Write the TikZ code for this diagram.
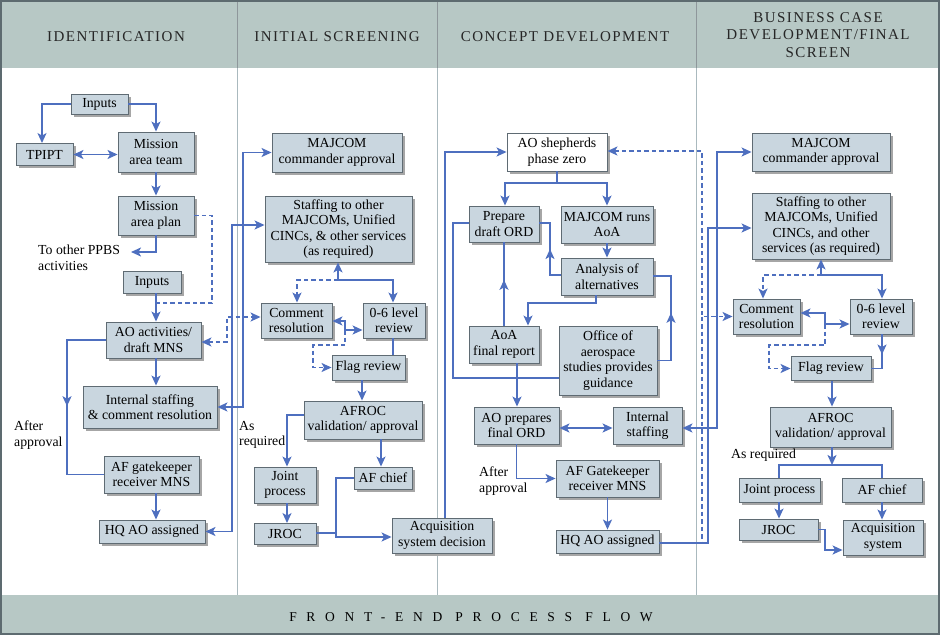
\documentclass[tikz,border=0pt]{standalone}
\usepackage{fontspec}
\setmainfont{Liberation Serif}
\newfontfamily\hdrfont[LetterSpace=10]{Liberation Serif}
\newfontfamily\btmfont[LetterSpace=72]{Liberation Serif}
\usetikzlibrary{arrows.meta,shadows,decorations.markings,calc}
\definecolor{boxfill}{HTML}{C9D6DF}
\definecolor{boxdraw}{HTML}{5F6B73}
\definecolor{linec}{HTML}{4E6FBF}
\definecolor{band}{HTML}{B7C8C5}
\definecolor{divc}{HTML}{AAB9BE}
\definecolor{framec}{HTML}{5D6B70}
\newcommand\bxfont{\fontsize{13.8}{15.5}\selectfont}
\tikzset{
  box/.style={draw=boxdraw, line width=0.9pt, fill=boxfill, align=center, inner sep=1pt, font=\bxfont,
    drop shadow={shadow xshift=2.5pt, shadow yshift=-2.5pt, fill=black!35, opacity=1}},
  lbl/.style={align=left, font=\bxfont, inner sep=1pt},
  hdr/.style={align=center, font=\hdrfont\fontsize{15}{17.5}\selectfont, text=black!85},
  line/.style={draw=linec, line width=1.6pt},
  dsh/.style={dash pattern=on 4.5pt off 3pt},
  conn/.style={line, -{Stealth[length=10pt,width=9pt,inset=2.5pt]}},
  dbl/.style={line, {Stealth[length=10pt,width=9pt,inset=2.5pt]}-{Stealth[length=10pt,width=9pt,inset=2.5pt]}},
  midarr/.style={line, postaction={decorate}, decoration={markings, mark=at position #1 with {\arrow{Stealth[length=10pt,width=9pt,inset=2.5pt]}}}},
  divider/.style={draw=divc, line width=1pt}
}
\begin{document}
\begin{tikzpicture}[x=1pt,y=-1pt]
\useasboundingbox (0,0) rectangle (940,635);
% bands
\fill[band] (0,0) rectangle (940,68);
\fill[band] (0,595) rectangle (940,635);
\foreach \xx in {237,437,696} {
  \draw[divider] (\xx,68) -- (\xx,595);
  \draw[draw=framec!70, line width=1pt] (\xx,0) -- (\xx,68);
}
\draw[draw=framec, line width=2pt] (1,1) rectangle (939,634);
% headers
\node[hdr] (h1) at (116,37) {IDENTIFICATION};
\node[hdr] (h2) at (337,37) {INITIAL SCREENING};
\node[hdr] (h3) at (565,37) {CONCEPT DEVELOPMENT};
\node[hdr] (h4) at (818,35) {BUSINESS CASE\\DEVELOPMENT/FINAL\\SCREEN};
\node (ft) at (471,617) {\btmfont\fontsize{13.5}{15}\selectfont FRONT-END PROCESS FLOW};

% ---------- column 1
\node[box,minimum width=57pt,minimum height=20pt] (in1) at (99.5,104) {Inputs};
\node[box,minimum width=57pt,minimum height=22pt] (tpipt) at (44.5,154.5) {TPIPT};
\node[box,minimum width=76pt,minimum height=40pt] (mat) at (156,152) {Mission\\area team};
\node[box,minimum width=76pt,minimum height=39pt] (map) at (156,215.5) {Mission\\area plan};
\node[box,minimum width=58pt,minimum height=22pt] (in2) at (152,282) {Inputs};
\node[box,minimum width=95pt,minimum height=36pt] (aoa) at (153.5,340) {AO activities/\\draft MNS};
\node[box,minimum width=134pt,minimum height=42pt] (ist) at (150,407) {Internal staffing\\\& comment resolution};
\node[box,minimum width=95pt,minimum height=37pt] (afg) at (151.5,474.5) {AF gatekeeper\\receiver MNS};
\node[box,minimum width=106pt,minimum height=23pt] (hqa) at (152,531.5) {HQ AO assigned};

\node[lbl,anchor=north west] (lppbs) at (37,244) {To other PPBS\\activities};
\node[lbl,anchor=north west] (lapp1) at (13,420) {After\\approval};

\draw[conn] (in1.west) -- (42,0|-in1.west) -- (42,0|-tpipt.north);
\draw[conn] (in1.east) -- (156,0|-in1.east) -- (156,0|-mat.north);
\draw[dbl] (tpipt.east) -- (tpipt.east-|mat.west);
\draw[conn] (mat.south) -- (map.north);
\coordinate (ppbs) at (131,252);
\draw[conn] (map.south) -- (156,252) -- (ppbs);
\draw[conn] (156,0|-in2.south) -- (156,0|-aoa.north);
\draw[conn] (156,0|-aoa.south) -- (156,0|-ist.north);
\draw[midarr=0.5] (aoa.west) -- (67,0|-aoa.west) -- (67,0|-afg.west) -- (afg.west);
\draw[conn] (156,0|-afg.south) -- (156,0|-hqa.north);
\coordinate (mapj) at (157,303);
\draw[line,dsh] (map.east) -- (212,0|-map.east) -- (212,303) -- (mapj);

% ---------- column 2
\node[box,minimum width=130pt,minimum height=39pt] (mcc) at (337,152.5) {MAJCOM\\commander approval};
\node[box,minimum width=147pt,minimum height=66pt] (stf) at (338.5,229) {Staffing to other\\MAJCOMs, Unified\\CINCs, \& other services\\(as required)};
\node[box,minimum width=71pt,minimum height=35pt] (cr) at (296.5,320.5) {Comment\\resolution};
\node[box,minimum width=62pt,minimum height=35pt] (o6) at (394,320.5) {0-6 level\\review};
\node[box,minimum width=73pt,minimum height=25pt] (flg) at (368.5,367.5) {Flag review};
\node[box,minimum width=118pt,minimum height=38pt] (afroc) at (363,420) {AFROC\\validation/ approval};
\node[box,minimum width=62pt,minimum height=36pt] (jp) at (285,485) {Joint\\process};
\node[box,minimum width=58pt,minimum height=22pt] (afc) at (383,478) {AF chief};
\node[box,minimum width=62pt,minimum height=21pt] (jroc) at (285,534) {JROC};
\node[box,minimum width=100pt,minimum height=35pt] (acq) at (442,535.5) {Acquisition\\system decision};

\node[lbl,anchor=north west] (lreq2) at (238,420) {As\\required};

\coordinate (s2) at (338,280);
\draw[conn] (s2) -- (338,0|-stf.south);
\draw[conn] (s2) -- (393,280) -- (393,0|-o6.north);
\draw[conn,dsh] (s2) -- (297,280) -- (297,0|-cr.north);
\coordinate (j2) at (345,330);
\draw[conn] (j2) -- (345,321) -- (cr.east|-0,321);
\draw[conn] (j2) -- (o6.west|-j2);
\draw[conn,dsh] (j2) -- (345,345) -- (313,345) -- (313,0|-flg.west) -- (flg.west);
\draw[line] (393,0|-o6.south) -- (393,0|-flg.north);
\draw[conn] (362,0|-flg.south) -- (362,0|-afroc.north);
\draw[conn] (afroc.west|-0,415) -- (287,415) -- (287,0|-jp.north);
\draw[conn] (381,0|-afroc.south) -- (381,0|-afc.north);
\draw[conn] (287,0|-jp.south) -- (287,0|-jroc.north);
\draw[line] (jroc.east|-0,533) -- (336,533);
\draw[conn] (afc.west) -- (336,0|-afc.west) -- (336,537) -- (acq.west|-0,537);

% column 1 <-> column 2
\draw[dbl] (ist.east) -- (243,0|-ist.east) -- (243,0|-mcc.west) -- (mcc.west);
\draw[dbl] (hqa.east) -- (232,0|-hqa.east) -- (232,225) -- (stf.west|-0,225);
\draw[dbl,dsh] (aoa.east|-0,342) -- (227,342) -- (227,317) -- (cr.west|-0,317);

% ---------- column 3
\node[box,fill=white,minimum width=100pt,minimum height=38pt] (aos) at (557,152) {AO shepherds\\phase zero};
\node[box,minimum width=70pt,minimum height=36pt] (pdo) at (504,224) {Prepare\\draft ORD};
\node[box,minimum width=92pt,minimum height=37pt] (mra) at (607,224.5) {MAJCOM runs\\AoA};
\node[box,minimum width=92pt,minimum height=37pt] (alt) at (607,276.5) {Analysis of\\alternatives};
\node[box,minimum width=70pt,minimum height=37pt] (afr) at (504,344.5) {AoA\\final report};
\node[box,minimum width=98pt,minimum height=69pt] (oas) at (608,360.5) {Office of\\aerospace\\studies provides\\guidance};
\node[box,minimum width=85pt,minimum height=37pt] (apf) at (516.5,425.5) {AO prepares\\final ORD};
\node[box,minimum width=69pt,minimum height=37pt] (ist3) at (647.5,425.5) {Internal\\staffing};
\node[box,minimum width=103pt,minimum height=37pt] (afg3) at (607.5,478.5) {AF Gatekeeper\\receiver MNS};
\node[box,minimum width=103pt,minimum height=23pt] (hqa3) at (607.5,541.5) {HQ AO assigned};

\node[lbl,anchor=north west] (lapp3) at (478,466) {After\\approval};

\draw[conn] (445,0|-acq.north) -- (445,0|-aos.west) -- (aos.west);
\coordinate (s3) at (557,183);
\draw[line] (aos.south) -- (s3);
\draw[conn] (s3) -- (505,183) -- (505,0|-pdo.north);
\draw[conn] (s3) -- (607,183) -- (607,0|-mra.north);
\draw[conn] (mra.south) -- (alt.north);
\draw[midarr=0.5] (alt.west|-0,275) -- (550,275) -- (550,223) -- (pdo.east|-0,223);
\draw[conn] (596,0|-alt.south) -- (596,303) -- (528,303) -- (528,0|-afr.north);
\draw[midarr=0.55] (afr.north) -- (pdo.south);
\draw[midarr=0.53] (oas.east) -- (671,0|-oas.east) -- (671,276) -- (alt.east|-0,276);
\draw[line] (pdo.west|-0,223) -- (453,223) -- (453,378) -- (oas.west|-0,378);
\draw[conn] (517,0|-afr.south) -- (517,0|-apf.north);
\draw[dbl] (apf.east|-0,428) -- (ist3.west|-0,428);
\draw[conn] (apf.south) -- (apf.south|-afg3.west) -- (afg3.west);
\draw[conn] (afg3.south) -- (hqa3.north);

% ---------- column 4
\node[box,minimum width=138pt,minimum height=38pt] (mcc4) at (821,152) {MAJCOM\\commander approval};
\node[box,minimum width=138pt,minimum height=66pt] (stf4) at (821,226) {Staffing to other\\MAJCOMs, Unified\\CINCs, and other\\services (as required)};
\node[box,minimum width=67pt,minimum height=35pt] (cr4) at (766.5,316.5) {Comment\\resolution};
\node[box,minimum width=62pt,minimum height=35pt] (o64) at (881,316.5) {0-6 level\\review};
\node[box,minimum width=80pt,minimum height=24pt] (flg4) at (831,368.5) {Flag review};
\node[box,minimum width=121pt,minimum height=40pt] (afroc4) at (830.5,427) {AFROC\\validation/ approval};
\node[box,minimum width=81pt,minimum height=24pt] (jp4) at (779.5,490) {Joint process};
\node[box,minimum width=80pt,minimum height=24pt] (afc4) at (882,490) {AF chief};
\node[box,minimum width=79pt,minimum height=21pt] (jroc4) at (778.5,529.5) {JROC};
\node[box,minimum width=80pt,minimum height=35pt] (acq4) at (883,537.5) {Acquisition\\system};

\node[lbl,anchor=north west] (lreq4) at (730,448) {As required};

\coordinate (s4) at (821,275);
\draw[conn] (s4) -- (stf4.south);
\draw[conn] (s4) -- (882,275) -- (882,0|-o64.north);
\draw[conn,dsh] (s4) -- (763,275) -- (763,0|-cr4.north);
\coordinate (j4) at (825,324);
\draw[conn] (j4) -- (825,313) -- (cr4.east|-0,313);
\draw[conn] (j4) -- (o64.west|-j4);
\draw[conn,dsh] (j4) -- (825,345) -- (769,345) -- (769,0|-flg4.west) -- (flg4.west);
\draw[midarr=0.45] (882,0|-o64.south) -- (882,0|-flg4.east) -- (flg4.east);
\draw[conn] (832,0|-flg4.south) -- (832,0|-afroc4.north);
\coordinate (s5) at (832,465);
\draw[conn] (832,0|-afroc4.south) -- (s5);
\draw[line] (779,0|-jp4.north) -- (779,465) -- (882,465) -- (882,0|-afc4.north);
\draw[conn] (779,0|-jp4.south) -- (779,0|-jroc4.north);
\draw[conn] (882,0|-afc4.south) -- (882,0|-acq4.north);
\draw[conn] (jroc4.east) -- (825,0|-jroc4.east) -- (825,550) -- (acq4.west|-0,550);

% column 3 <-> column 4
\draw[dbl] (ist3.east|-0,428) -- (717,428) -- (717,0|-mcc4.west) -- (mcc4.west);
\draw[conn] (hqa3.east|-0,543) -- (708,543) -- (708,228) -- (stf4.west|-0,228);
\draw[dbl,dsh] (aos.east|-0,151) -- (702,151) -- (702,0|-cr4.west) -- (cr4.west);
\draw[line,dsh] (702,0|-cr4.west) -- (702,543);
\end{tikzpicture}
\end{document}
